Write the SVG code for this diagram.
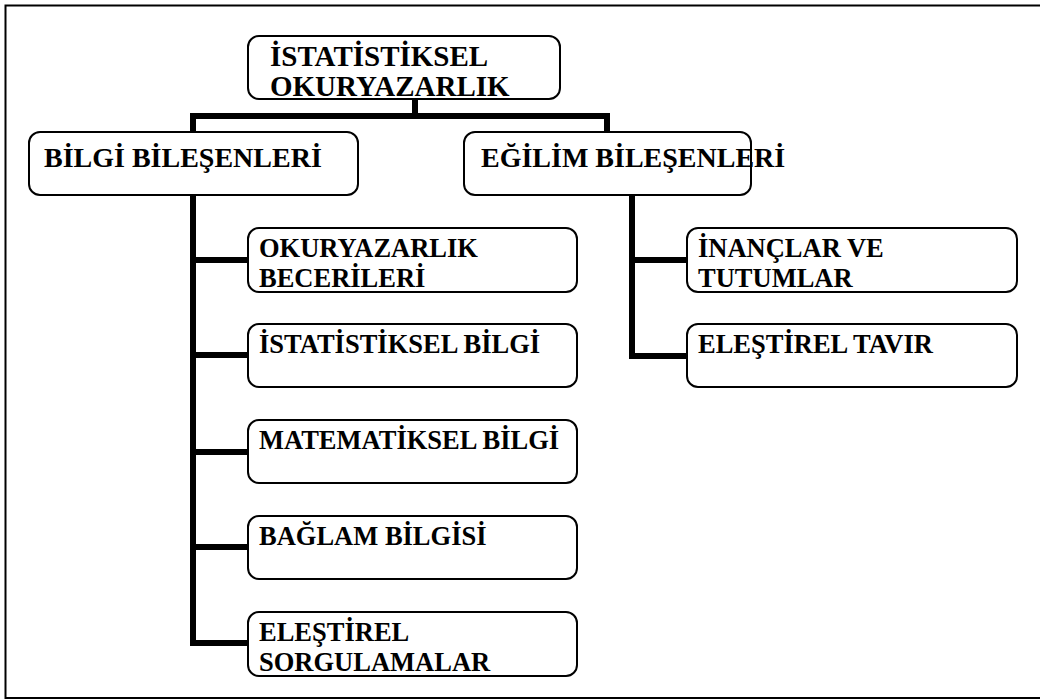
<svg xmlns="http://www.w3.org/2000/svg" width="1040" height="700" viewBox="0 0 1040 700">
<style>
.box{fill:#fff;stroke:#000;stroke-width:2}
.t{font-family:"Liberation Serif","Times New Roman",serif;font-weight:bold;fill:#000}
.t0{font-size:29px}
.t1{font-size:28px}
.t2{font-size:26.5px}
.c{fill:none;stroke:#000;stroke-width:6;stroke-linejoin:miter}
</style>
<rect x="0" y="0" width="1040" height="700" fill="#fff"/>
<rect x="5.5" y="5.5" width="1040" height="692.5" fill="none" stroke="#000" stroke-width="2"/>
<g id="connectors">
<path class="c" d="M415,99 V116 M193,132 V116 H607 V132"/>
<path class="c" d="M193,195 V643 H248 M193,260 H248 M193,355 H248 M193,452 H248 M193,547 H248"/>
<path class="c" d="M632,195 V356 H687 M632,260 H687"/>
</g>
<g id="root">
<rect class="box" x="248" y="36" width="312" height="63" rx="11"/>
<text class="t t0" x="270" y="66">İSTATİSTİKSEL</text>
<text class="t t0" x="270" y="96">OKURYAZARLIK</text>
</g>
<g id="bilgi">
<rect class="box" x="29" y="132" width="329" height="63" rx="11"/>
<text class="t t1" x="44" y="167">BİLGİ BİLEŞENLERİ</text>
</g>
<g id="egilim">
<rect class="box" x="464" y="132" width="287" height="63" rx="11"/>
<text class="t t1" x="481" y="167">EĞİLİM BİLEŞENLERİ</text>
</g>
<g id="okuryazarlik">
<rect class="box" x="248" y="228" width="329" height="64" rx="11"/>
<text class="t t2" x="259" y="257">OKURYAZARLIK</text>
<text class="t t2" x="259" y="287">BECERİLERİ</text>
</g>
<g id="istatistiksel">
<rect class="box" x="248" y="324" width="329" height="63" rx="11"/>
<text class="t t2" x="259" y="353">İSTATİSTİKSEL BİLGİ</text>
</g>
<g id="matematiksel">
<rect class="box" x="248" y="420" width="329" height="63" rx="11"/>
<text class="t t2" x="259" y="449">MATEMATİKSEL BİLGİ</text>
</g>
<g id="baglam">
<rect class="box" x="248" y="516" width="329" height="63" rx="11"/>
<text class="t t2" x="259" y="545">BAĞLAM BİLGİSİ</text>
</g>
<g id="sorgulamalar">
<rect class="box" x="248" y="612" width="329" height="64" rx="11"/>
<text class="t t2" x="259" y="641">ELEŞTİREL</text>
<text class="t t2" x="259" y="671">SORGULAMALAR</text>
</g>
<g id="inanclar">
<rect class="box" x="687" y="228" width="330" height="64" rx="11"/>
<text class="t t2" x="698" y="257">İNANÇLAR VE</text>
<text class="t t2" x="698" y="287">TUTUMLAR</text>
</g>
<g id="tavir">
<rect class="box" x="687" y="324" width="330" height="63" rx="11"/>
<text class="t t2" x="698" y="353">ELEŞTİREL TAVIR</text>
</g>
</svg>
